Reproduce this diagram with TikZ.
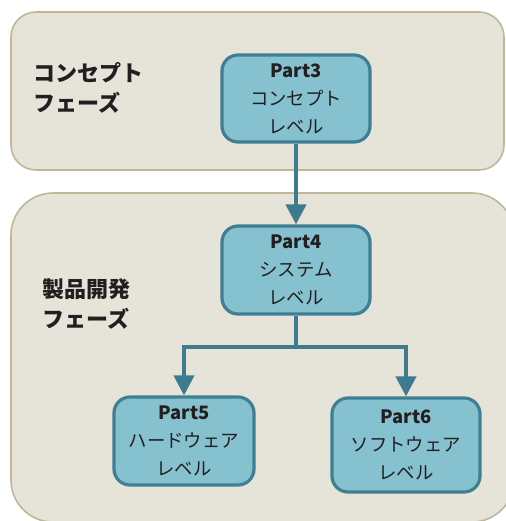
\documentclass[tikz,border=0pt]{standalone}
\usepackage{fontspec}
\setmainfont{Noto Sans CJK JP}
\usetikzlibrary{positioning, arrows.meta, calc}
\definecolor{phasefill}{HTML}{E6E3D9}
\definecolor{phaseline}{HTML}{BFB898}
\definecolor{levelfill}{HTML}{86C1D0}
\definecolor{levelline}{HTML}{3F7F93}
\definecolor{flowline}{HTML}{3F7B8F}
\definecolor{labeltext}{HTML}{231F20}

\begin{document}
\begin{tikzpicture}[x=0.5pt, y=-0.5pt,
    phase/.style={fill=phasefill, draw=phaseline, line width=0.8pt},
    phaselabel/.style={font=\fontsize{11}{15}\selectfont\bfseries, text=labeltext, align=left, anchor=north west, inner sep=0pt},
    level/.style={fill=levelfill, draw=levelline, line width=1.6pt, rounded corners=8pt, align=center, text=labeltext, font=\fontsize{9.2}{14}\selectfont, inner sep=0pt},
    flow/.style={draw=flowline, line width=2pt, -{Triangle[width=10pt, length=10pt]}}]
    \useasboundingbox (0,0) rectangle (505,521);
    \draw[phase, rounded corners=12.5pt] (11,12) rectangle (504,170);
    \draw[phase, rounded corners=21pt] (11,193) rectangle (514,522);
    \node[phaselabel] (concept) at (33,62) {コンセプト\\フェーズ};
    \node[phaselabel] (develop) at (42,278) {製品開発\\フェーズ};
    \node[level, minimum width=74pt, minimum height=43.5pt] (part3) at (296,98.5) {\textbf{Part3}\\コンセプト\\レベル};
    \node[level, minimum width=74pt, minimum height=44pt] (part4) at (296,270) {\textbf{Part4}\\システム\\レベル};
    \node[level, minimum width=70pt, minimum height=44pt] (part5) at (184,441) {\textbf{Part5}\\ハードウェア\\レベル};
    \node[level, minimum width=74pt, minimum height=47pt] (part6) at (406,445) {\textbf{Part6}\\ソフトウェア\\レベル};
    \coordinate (split) at (296,347);
    \draw[flow] (part3) -- (part4);
    \draw[flow] (part4.south) -- (split) -| (part5.north);
    \draw[flow] (part4.south) -- (split) -| (part6.north);
\end{tikzpicture}
\end{document}
